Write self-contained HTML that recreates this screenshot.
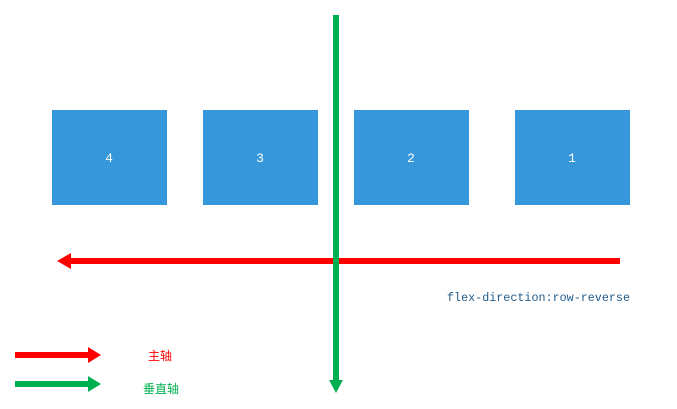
<!DOCTYPE html>
<html><head><meta charset="utf-8"><style>
html,body{margin:0;padding:0;background:#fff;width:677px;height:409px;overflow:hidden}
svg{display:block}
</style></head><body>
<svg width="677" height="409" viewBox="0 0 677 409" xmlns="http://www.w3.org/2000/svg">
  <g font-family="'Liberation Mono', monospace" font-size="13" fill="#fff" text-anchor="middle">
    <rect x="52" y="110" width="115" height="95" fill="#3797db"/>
    <text x="109" y="162">4</text>
    <rect x="203" y="110" width="115" height="95" fill="#3797db"/>
    <text x="260" y="162">3</text>
    <rect x="354" y="110" width="115" height="95" fill="#3797db"/>
    <text x="411" y="162">2</text>
    <rect x="515" y="110" width="115" height="95" fill="#3797db"/>
    <text x="572" y="162">1</text>
  </g>
  <g fill="#ff0000">
    <rect x="68" y="258" width="552" height="6"/>
    <polygon points="57,261 71,253 71,269"/>
  </g>
  <g fill="#00b050">
    <rect x="333" y="15" width="6" height="368"/>
    <polygon points="336,393 329,380 343,380"/>
  </g>
  <text x="447" y="301" font-family="'Liberation Mono', monospace" font-size="12" fill="#1f5b8c" textLength="183" lengthAdjust="spacingAndGlyphs">flex-direction:row-reverse</text>
  <g>
    <rect x="15" y="352" width="75" height="6" fill="#ff0000"/>
    <polygon points="101,355 88,347 88,363" fill="#ff0000"/>
    <text x="148" y="360" font-family="'Liberation Sans','Noto Sans CJK SC',sans-serif" font-size="12" fill="#ff0000">主轴</text>
  </g>
  <g>
    <rect x="15" y="381" width="75" height="6" fill="#00b050"/>
    <polygon points="101,384 88,376 88,392" fill="#00b050"/>
    <text x="143" y="393" font-family="'Liberation Sans','Noto Sans CJK SC',sans-serif" font-size="12" fill="#00b050">垂直轴</text>
  </g>
</svg>
</body></html>
